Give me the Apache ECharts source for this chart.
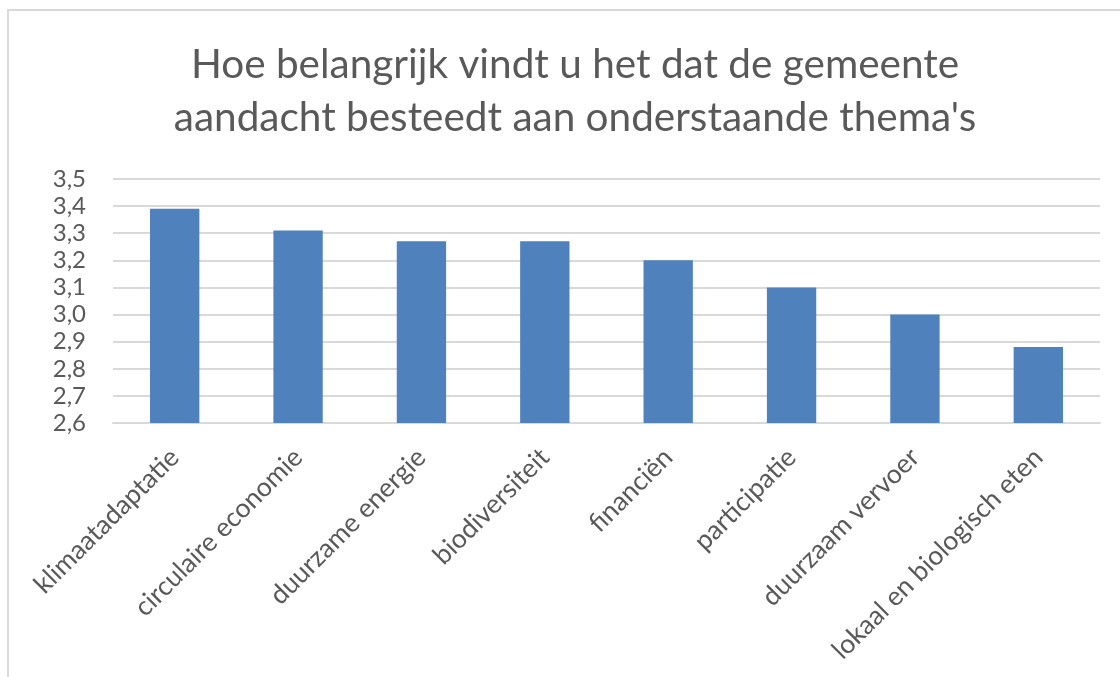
<!DOCTYPE html>
<html><head><meta charset="utf-8">
<script src="https://cdn.jsdelivr.net/npm/echarts@6/dist/echarts.min.js"></script>
<style>html,body{margin:0;padding:0;background:#fff}#c{width:1120px;height:677px}</style>
</head><body><div id="c"></div>
<script>
const categories = ['klimaatadaptatie','circulaire economie','duurzame energie','biodiversiteit','financiën','participatie','duurzaam vervoer','lokaal en biologisch eten'];
const values = [3.39, 3.31, 3.27, 3.27, 3.20, 3.10, 3.00, 2.88];
const titleText = "Hoe belangrijk vindt u het dat de gemeente\naandacht besteedt aan onderstaande thema's";
const FONT = "Lato, 'Open Sans', sans-serif";
const chart = echarts.init(document.getElementById('c'), null, {renderer:'canvas'});
chart.setOption({
  animation:false,
  backgroundColor:'#fff',
  graphic:[{type:'rect', shape:{x:8,y:10,width:1200,height:700}, style:{fill:'none', stroke:'#d9d9d9', lineWidth:2}, silent:true}],
  title:{text:titleText, left:570, top:33, textAlign:'center',
    textStyle:{fontFamily:FONT, fontSize:40.5, fontWeight:'normal', color:'#595959', lineHeight:53}},
  grid:{left:113, right:20, top:179, bottom:254, containLabel:false},
  xAxis:{type:'category', data:categories,
    axisLine:{lineStyle:{color:'#d9d9d9', width:2}}, axisTick:{show:false},
    axisLabel:{rotate:45, interval:0, margin:30, fontFamily:FONT, fontSize:26.5, color:'#595959'}},
  yAxis:{type:'value', min:2.6, max:3.5, interval:0.1,
    axisLine:{show:false}, axisTick:{show:false},
    splitLine:{lineStyle:{color:'#d9d9d9', width:2}},
    axisLabel:{margin:27, fontFamily:FONT, fontSize:24, color:'#595959',
      formatter:v=>v.toFixed(1).replace('.',',')}},
  series:[{type:'bar', data:values, barWidth:'40%', itemStyle:{color:'#4f81bd'}}]
});
</script></body></html>
